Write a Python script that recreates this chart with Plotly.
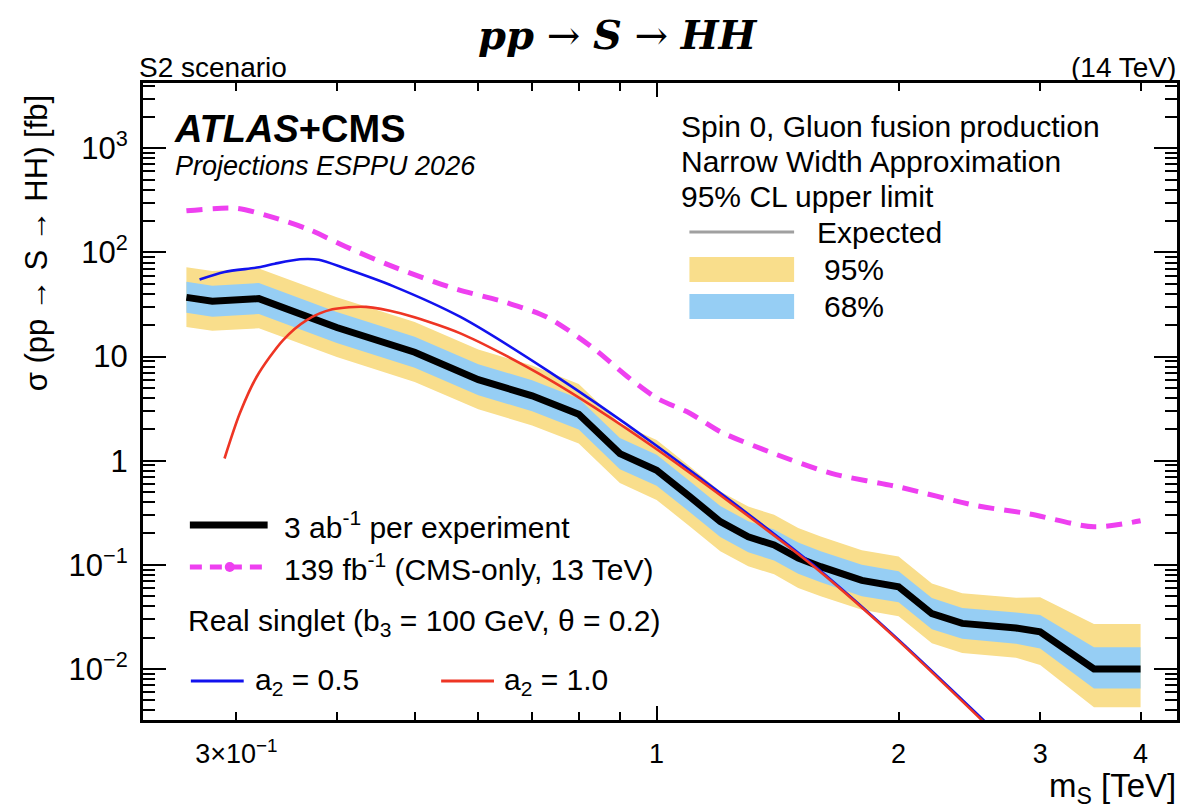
import plotly.graph_objects as go
import math

# ---------------- data ----------------
# Expected 95% CL upper limit, 3 ab^-1 per experiment (fb)
mass_exp = [0.26, 0.28, 0.32, 0.40, 0.50, 0.60, 0.70, 0.80, 0.90, 1.00, 1.10, 1.20,
            1.30, 1.40, 1.50, 1.60, 1.80, 2.00, 2.20, 2.40, 2.80, 3.00, 3.50, 4.00]
exp_med = [37, 34, 36, 19, 11, 6.0, 4.2, 2.8, 1.17, 0.81, 0.45, 0.26,
           0.186, 0.155, 0.116, 0.096, 0.071, 0.0615, 0.034, 0.0274, 0.0247, 0.0227, 0.010, 0.010]
exp_up68 = [52.2, 47.9, 50.8, 26.8, 15.5, 8.46, 5.92, 3.95, 1.65, 1.14, 0.635, 0.367,
            0.262, 0.219, 0.164, 0.135, 0.100, 0.0867, 0.048, 0.0386, 0.0348, 0.0329, 0.0162, 0.0162]
exp_dn68 = [26.3, 24.1, 25.6, 13.5, 7.8, 4.26, 2.98, 1.99, 0.83, 0.575, 0.32, 0.185,
            0.132, 0.110, 0.082, 0.068, 0.050, 0.0437, 0.0241, 0.0195, 0.0175, 0.0157, 0.0065, 0.0065]
exp_up95 = [72.2, 66.3, 70.2, 37.1, 21.5, 11.7, 8.19, 5.46, 2.28, 1.58, 0.88, 0.507,
            0.363, 0.302, 0.226, 0.187, 0.138, 0.120, 0.0663, 0.0534, 0.0482, 0.0488, 0.027, 0.027]
exp_dn95 = [19.2, 17.7, 18.7, 9.9, 5.7, 3.12, 2.18, 1.46, 0.61, 0.42, 0.234, 0.135,
            0.097, 0.081, 0.060, 0.050, 0.037, 0.032, 0.0177, 0.0142, 0.0128, 0.0109, 0.0043, 0.0043]

# 139 fb^-1 (CMS-only, 13 TeV)
mass_cms = [0.26, 0.30, 0.33, 0.37, 0.41, 0.47, 0.56, 0.65, 0.73, 0.83, 0.92, 1.00,
            1.10, 1.20, 1.40, 1.65, 2.00, 2.50, 2.90, 3.50, 4.00]
lim_cms = [251, 265, 222, 165, 114, 73, 45, 33, 24, 12.4, 6.4, 4.0,
           2.86, 1.9, 1.17, 0.755, 0.56, 0.37, 0.31, 0.232, 0.265]

# Real singlet predictions
mass_a05 = [0.27, 0.29, 0.32, 0.335, 0.36, 0.38, 0.41, 0.47, 0.57, 0.73, 0.99, 1.54, 1.96, 2.60]
xs_a05 = [55, 65, 72, 78, 86, 85, 70, 47.5, 24, 7.4, 1.47, 0.111, 0.0219, 0.0028]
mass_a10 = [0.29, 0.303, 0.318, 0.343, 0.367, 0.395, 0.435, 0.48, 0.57, 0.73, 0.99, 1.54, 1.96, 2.60]
xs_a10 = [1.05, 2.85, 6.4, 14.4, 22.4, 28.4, 30.0, 26.0, 16.7, 6.2, 1.36, 0.108, 0.0215, 0.0027]

x_tick_vals = [0.3, 1, 2, 3, 4]
x_tick_text = ["3×10<sup>−1</sup>", "1", "2", "3", "4"]
y_tick_vals = [1e-2, 1e-1, 1, 10, 100, 1000]
y_tick_text = ["10<sup>−2</sup>", "10<sup>−1</sup>", "1", "10", "10<sup>2</sup>", "10<sup>3</sup>"]

# ---------------- styling ----------------
W, H = 1183, 808
L, R, T, B = 143, 1180, 83, 720
YELLOW = "#F9DE8C"
LBLUE = "#96CEF4"
MAGENTA = "#EE40F0"
BLUE = "#1212EE"
RED = "#EE3524"
FONT = "Liberation Sans"


def px(X):
    return (X - L) / (R - L)


def py(Y):
    return (B - Y) / (B - T)


fig = go.Figure()

fig.add_trace(go.Scatter(x=mass_exp, y=exp_dn95, mode="lines", line=dict(width=0),
                         showlegend=False, hoverinfo="skip"))
fig.add_trace(go.Scatter(x=mass_exp, y=exp_up95, mode="lines", line=dict(width=0),
                         fill="tonexty", fillcolor=YELLOW, showlegend=False, hoverinfo="skip"))
fig.add_trace(go.Scatter(x=mass_exp, y=exp_dn68, mode="lines", line=dict(width=0),
                         showlegend=False, hoverinfo="skip"))
fig.add_trace(go.Scatter(x=mass_exp, y=exp_up68, mode="lines", line=dict(width=0),
                         fill="tonexty", fillcolor=LBLUE, showlegend=False, hoverinfo="skip"))
fig.add_trace(go.Scatter(x=mass_exp, y=exp_med, mode="lines",
                         line=dict(color="black", width=7), showlegend=False))
fig.add_trace(go.Scatter(x=mass_cms, y=lim_cms, mode="lines",
                         line=dict(color=MAGENTA, width=5, dash="16px,10px", shape="spline", smoothing=0.8),
                         showlegend=False))
fig.add_trace(go.Scatter(x=mass_a05, y=xs_a05, mode="lines",
                         line=dict(color=BLUE, width=2.6, shape="spline", smoothing=0.8),
                         showlegend=False))
fig.add_trace(go.Scatter(x=mass_a10, y=xs_a10, mode="lines",
                         line=dict(color=RED, width=2.6, shape="spline", smoothing=0.8),
                         showlegend=False))
# dummy trace for the overlay axis carrying the long tick at 1 TeV
fig.add_trace(go.Scatter(x=[1], y=[1], xaxis="x2", mode="markers", marker=dict(opacity=0),
                         showlegend=False, hoverinfo="skip"))

xr = [math.log10(0.2296), math.log10(4.44)]
yr = [-2.49, 3.627]

minor_x = [0.4, 0.5, 0.6, 0.7, 0.8, 0.9]
minor_y = [m * 10 ** e for e in range(-3, 4) for m in range(2, 10)]

fig.update_layout(
    width=W, height=H,
    margin=dict(l=L, r=W - R, t=T, b=H - B),
    paper_bgcolor="white", plot_bgcolor="white",
    font=dict(family=FONT, color="black"),
    xaxis=dict(type="log", range=xr, showgrid=False, zeroline=False,
               showline=True, linewidth=3, linecolor="black", mirror="ticks",
               ticks="inside", ticklen=8, tickwidth=2, tickcolor="black",
               tickmode="array", tickvals=x_tick_vals, ticktext=x_tick_text,
               tickfont=dict(size=27, family=FONT), ticklabelstandoff=8,
               minor=dict(ticks="inside", ticklen=8, tickwidth=2, tickcolor="black",
                          tickmode="array", tickvals=minor_x, showgrid=False)),
    xaxis2=dict(type="log", range=xr, overlaying="x", side="bottom", showgrid=False,
                zeroline=False, showline=False, mirror="ticks", ticks="inside",
                ticklen=14, tickwidth=2, tickcolor="black", tickmode="array",
                tickvals=[1], showticklabels=False),
    yaxis=dict(type="log", range=yr, showgrid=False, zeroline=False,
               showline=True, linewidth=3, linecolor="black", mirror="ticks",
               ticks="inside", ticklen=23, tickwidth=2, tickcolor="black",
               tickmode="array", tickvals=y_tick_vals, ticktext=y_tick_text,
               tickfont=dict(size=31, family=FONT), ticklabelstandoff=6,
               minor=dict(ticks="inside", ticklen=12, tickwidth=2, tickcolor="black",
                          tickmode="array", tickvals=minor_y, showgrid=False)),
)

ann = []


def text(X, Y, s, size=30, anchor="left", **kw):
    ann.append(dict(x=px(X), y=py(Y), xref="paper", yref="paper", text=s, showarrow=False,
                    xanchor=anchor, yanchor="middle",
                    font=dict(size=size, family=kw.pop("family", FONT), color="black"), **kw))


text(619, 34, "<b><i>pp</i></b> → <b><i>S</i></b> → <b><i>HH</i></b>", size=40, anchor="center",
     family="DejaVu Serif")
text(137, 67, "S2 scenario", size=28)
text(1181, 67, "(14 TeV)", size=28, anchor="right")
text(172, 129, "<b><i>ATLAS</i>+CMS</b>", size=38)
text(173, 166, "<i>Projections ESPPU 2026</i>", size=27)
text(681, 126, "Spin 0, Gluon fusion production", size=30)
text(681, 161, "Narrow Width Approximation", size=30)
text(681, 196, "95% CL upper limit", size=30)
text(817, 232, "Expected", size=30)
text(824, 269, "95%", size=30)
text(824, 306, "68%", size=30)
text(282, 525, "3 ab<sup>-1</sup> per experiment", size=30)
text(282, 567, "139 fb<sup>-1</sup> (CMS-only, 13 TeV)", size=30)
text(186, 622, "Real singlet (b<sub>3</sub> = 100 GeV, θ = 0.2)", size=30)
text(253, 681, "a<sub>2</sub> = 0.5", size=30)
text(503, 681, "a<sub>2</sub> = 1.0", size=30)
text(1181, 788, "m<sub>S</sub> [TeV]", size=33, anchor="right")
ann.append(dict(x=px(36), y=py(243), xref="paper", yref="paper",
                text="σ (pp → S → HH) [fb]", showarrow=False, textangle=-90,
                xanchor="center", yanchor="middle", font=dict(size=31, family=FONT, color="black")))
fig.update_layout(annotations=ann)

shapes = []


def hline(x0, x1, y, color, width, dash=None):
    shapes.append(dict(type="line", xref="paper", yref="paper", x0=px(x0), x1=px(x1),
                       y0=py(y), y1=py(y), line=dict(color=color, width=width, dash=dash)))


def box(x0, x1, y0, y1, color):
    shapes.append(dict(type="rect", xref="paper", yref="paper", x0=px(x0), x1=px(x1),
                       y0=py(y1), y1=py(y0), fillcolor=color, line=dict(width=0)))


hline(691, 796, 232, "#A0A0A0", 3)
box(691, 796, 257, 282, YELLOW)
box(691, 796, 294, 319, LBLUE)
hline(190, 268, 525, "black", 7)
hline(190, 268, 567, MAGENTA, 5, dash="12px,8px")
shapes.append(dict(type="circle", xref="paper", yref="paper", x0=px(225), x1=px(235),
                   y0=py(572), y1=py(562), fillcolor=MAGENTA, line=dict(width=0)))
hline(191, 244, 681, BLUE, 3)
hline(442, 495, 681, RED, 3)
fig.update_layout(shapes=shapes)

fig.write_html("out.html", config={"displayModeBar": False},
               post_script="document.body.style.margin='0px';")
